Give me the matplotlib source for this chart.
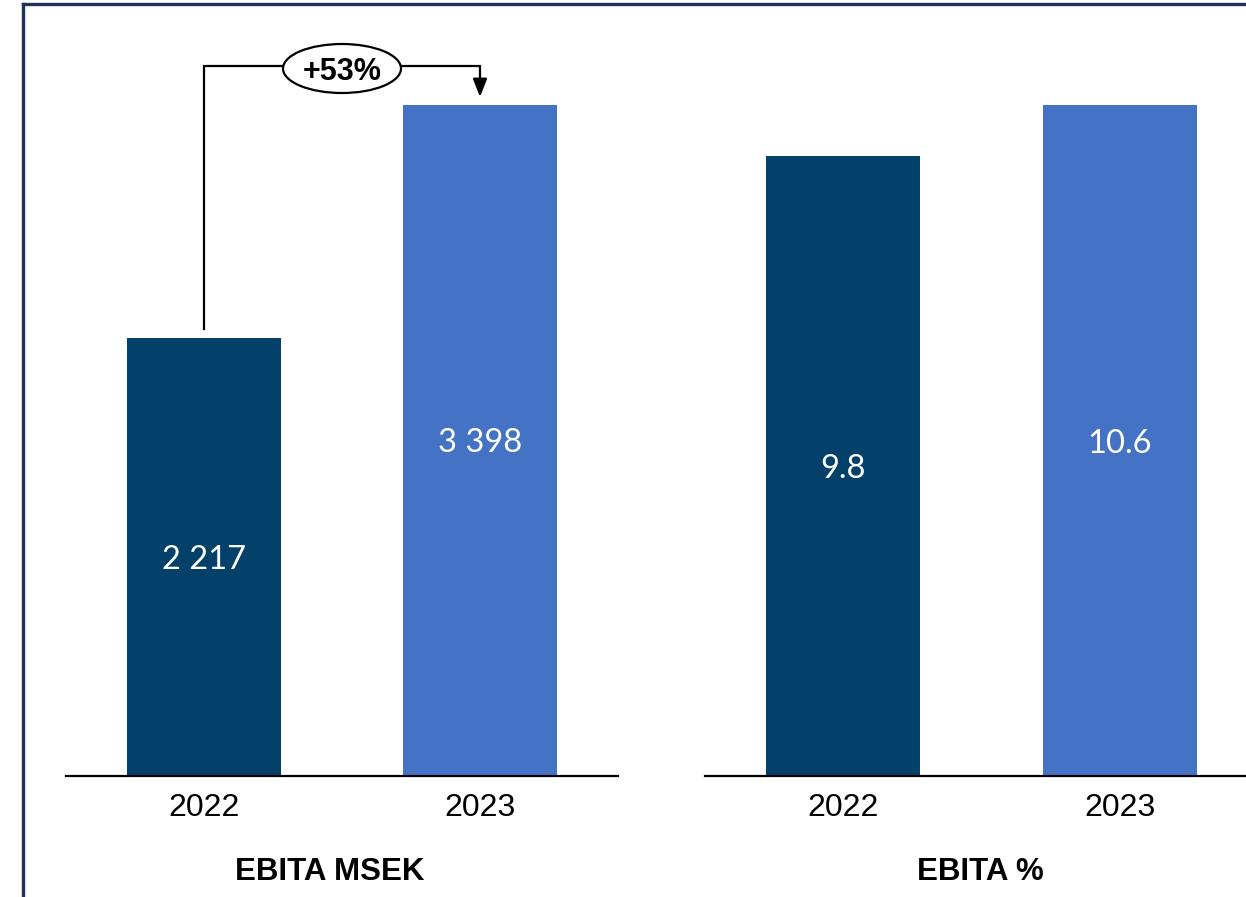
import matplotlib
matplotlib.use("Agg")
import matplotlib.pyplot as plt
from matplotlib.patches import Ellipse
from matplotlib.lines import Line2D

years = ["2022", "2023"]
ebita_msek = [2217, 3398]
ebita_pct = [9.8, 10.6]
growth_label = "+53%"
titles = ["EBITA MSEK", "EBITA %"]

DARK = "#04416A"
LIGHT = "#4472C4"
FRAME = "#1F3358"

W, H = 1246, 897
fig = plt.figure(figsize=(W / 100, H / 100), dpi=100)
plt.rcParams["font.family"] = ["Liberation Sans", "DejaVu Sans"]


def px_x(x):
    return x / W


def px_y(y):
    return (H - y) / H


def panel(left_px, right_px, values, fmt, xmax=1.5):
    ax = fig.add_axes([px_x(left_px), px_y(776), (right_px - left_px) / W, 776 / H])
    ax.bar(range(len(values)), values, width=0.558, color=[DARK, LIGHT])
    ax.set_xlim(-0.5, xmax)
    ax.set_ylim(0, max(values) * 776 / 671)
    for s in ["top", "left", "right"]:
        ax.spines[s].set_visible(False)
    ax.spines["bottom"].set_linewidth(1.6)
    ax.spines["bottom"].set_color("black")
    ax.set_yticks([])
    ax.set_xticks(range(len(values)), years, fontsize=23)
    ax.tick_params(axis="x", length=0, pad=12.5)
    for i, v in enumerate(values):
        ax.text(i, v / 2, fmt(v), ha="center", va="center_baseline", color="white",
                fontsize=23.5, family=["Lato", "DejaVu Sans"])
    return ax


ax1 = panel(66, 618, ebita_msek, lambda v: f"{v:,.0f}".replace(",", " "))
ax2 = panel(705, 1246, ebita_pct, lambda v: f"{v:.1f}", xmax=1.5 - 12 / 276)

# growth bracket between the two EBITA MSEK bars
top = max(ebita_msek)
unit = top / 671
y_br = top + 39 * unit
lw = 1.6
ax1.plot([0, 0, 1, 1], [ebita_msek[0] + 9 * unit, y_br, y_br, top + 22 * unit],
         color="black", lw=lw, clip_on=False, solid_joinstyle="miter")
ax1.annotate("", xy=(1, top + 8 * unit), xytext=(1, top + 24 * unit),
             arrowprops=dict(arrowstyle="-|>,head_width=0.43,head_length=1.1",
                             color="black", lw=lw, shrinkA=0, shrinkB=0),
             annotation_clip=False)
ell = Ellipse((0.5, y_br - 2.5 * unit), width=118 / 276, height=49 * unit,
              facecolor="white", edgecolor="black", lw=lw, clip_on=False, zorder=5)
ax1.add_patch(ell)
ax1.text(0.5, y_br - 2.5 * unit, growth_label, ha="center", va="center_baseline",
         fontsize=22, fontweight="bold", zorder=6, clip_on=False)

fig.text(px_x(330), px_y(880), titles[0], ha="center", va="baseline",
         fontsize=22.5, fontweight="bold")
fig.text(px_x(980), px_y(880), titles[1], ha="center", va="baseline",
         fontsize=22.5, fontweight="bold")

# outer frame (only top and left edges fall inside the figure)
fig.add_artist(Line2D([px_x(22.5), 1.0], [px_y(4.5), px_y(4.5)], color=FRAME, lw=2.4))
fig.add_artist(Line2D([px_x(22.5), px_x(22.5)], [px_y(4.5), 0], color=FRAME, lw=2.4))

fig.savefig("out.png", dpi=100)
